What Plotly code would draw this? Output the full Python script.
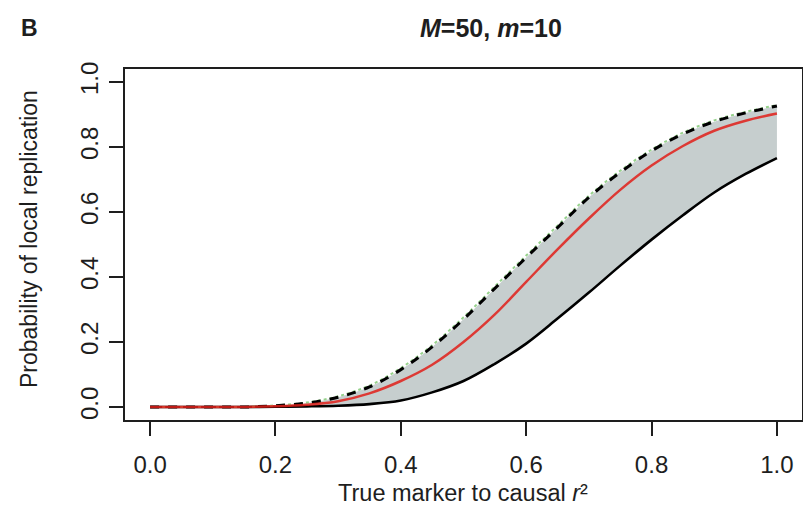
import plotly.graph_objects as go

# True marker to causal r^2
r2 = [0.0, 0.05, 0.1, 0.15, 0.2, 0.25, 0.3, 0.35, 0.4, 0.45, 0.5,
      0.55, 0.6, 0.65, 0.7, 0.75, 0.8, 0.85, 0.9, 0.95, 1.0]
# lower bound (solid black)
lower = [0.0, 0.0, 0.0, 0.0, 0.001, 0.002, 0.004, 0.009, 0.02, 0.045, 0.08,
         0.133, 0.195, 0.272, 0.352, 0.435, 0.515, 0.59, 0.66, 0.717, 0.766]
# middle (solid red)
middle = [0.0, 0.0, 0.0, 0.0, 0.002, 0.007, 0.018, 0.042, 0.08, 0.13, 0.2,
          0.285, 0.385, 0.485, 0.58, 0.668, 0.743, 0.803, 0.85, 0.881, 0.903]
# upper bound (dashed black)
upper = [0.0, 0.0, 0.0, 0.0, 0.004, 0.012, 0.03, 0.062, 0.115, 0.185, 0.27,
         0.365, 0.46, 0.552, 0.645, 0.722, 0.788, 0.84, 0.878, 0.905, 0.926]
# green dotted (nearly on the upper bound)
green = [0.0, 0.0, 0.0, 0.0, 0.005, 0.014, 0.033, 0.066, 0.12, 0.19, 0.276,
         0.371, 0.466, 0.558, 0.65, 0.727, 0.792, 0.844, 0.882, 0.908, 0.929]

xticks = [0.0, 0.2, 0.4, 0.6, 0.8, 1.0]
yticks = [0.0, 0.2, 0.4, 0.6, 0.8, 1.0]
xtick_text = ["0.0", "0.2", "0.4", "0.6", "0.8", "1.0"]
ytick_text = ["0.0", "0.2", "0.4", "0.6", "0.8", "1.0"]

FONT = "Liberation Sans, Arial, Helvetica, sans-serif"
TXT = "#1e1e1e"

# the page body has an 8px margin: the figure sits at (8, 8) in the window
OFF = 8
FW, FH = 811 - 2 * OFF, 523 - 2 * OFF
# plot box in window pixels: x 125..802, y 69..420
L, R, T, B = 125, 802, 69, 420
W, H = R - L, B - T

fig = go.Figure()
fig.add_trace(go.Scatter(x=r2, y=lower, mode="lines", line=dict(color="black", width=0, shape="spline"),
                         showlegend=False, hoverinfo="skip"))
fig.add_trace(go.Scatter(x=r2, y=upper, mode="lines", line=dict(color="black", width=0, shape="spline"),
                         fill="tonexty", fillcolor="rgb(198,206,206)",
                         showlegend=False, hoverinfo="skip"))
fig.add_trace(go.Scatter(x=r2, y=lower, mode="lines", line=dict(color="black", width=2.6, shape="spline"),
                         showlegend=False))
fig.add_trace(go.Scatter(x=r2, y=green, mode="lines",
                         line=dict(color="rgb(150,210,140)", width=2, dash="dot", shape="spline"),
                         showlegend=False))
fig.add_trace(go.Scatter(x=r2, y=upper, mode="lines",
                         line=dict(color="black", width=3, dash="9px,9px", shape="spline"),
                         showlegend=False))
fig.add_trace(go.Scatter(x=r2, y=middle, mode="lines",
                         line=dict(color="rgba(225,30,25,0.85)", width=2.5, shape="spline"),
                         showlegend=False))

axis_common = dict(showgrid=False, zeroline=False, showline=True, linecolor=TXT,
                   linewidth=2, mirror=True, ticks="outside", ticklen=14, tickwidth=2,
                   tickcolor=TXT, automargin=False,
                   tickfont=dict(family=FONT, size=24, color=TXT))

fig.update_layout(
    width=FW, height=FH,
    paper_bgcolor="white", plot_bgcolor="white",
    margin=dict(l=L - OFF, r=FW - (R - OFF), t=T - OFF, b=FH - (B - OFF), pad=0),
    xaxis=dict(range=[-0.04, 1.04], tickvals=xticks, ticktext=xtick_text,
               ticklabelstandoff=8, **axis_common),
    yaxis=dict(range=[-0.04, 1.04], tickvals=yticks, ticktext=ytick_text, tickangle=-90,
               ticklabelstandoff=1, **axis_common),
)

def ann(text, px, py, size, angle=0, xanchor="center"):
    fig.add_annotation(text=text, xref="paper", yref="paper",
                       x=(px - L) / W, y=(B - py) / H, xanchor=xanchor, yanchor="middle",
                       textangle=angle, showarrow=False,
                       font=dict(family=FONT, size=size, color=TXT))

ann("<b>B</b>", 19, 28, 23, xanchor="left")
ann("<b><i>M</i>=50, <i>m</i>=10</b>", 491, 28, 25)
ann("True marker to causal <i>r</i>²", 463, 493, 23.5)
ann("Probability of local replication", 29, 239, 23, angle=-90)

fig.write_html("out.html")
